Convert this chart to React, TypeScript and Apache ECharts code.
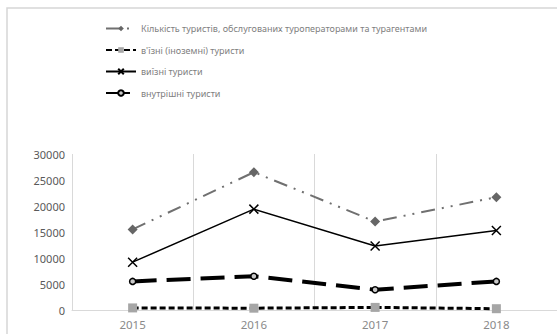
import React, { useEffect, useRef } from "react";
import * as echarts from "echarts";

const years = ["2015", "2016", "2017", "2018"];
const totalServed = [15500, 26500, 17000, 21700];
const inbound = [400, 350, 500, 250];
const outbound = [9200, 19400, 12300, 15300];
const domestic = [5500, 6500, 3900, 5500];

const seriesNames = [
  "Кількість туристів, обслугованих туроператорами та турагентами",
  "в'їзні (іноземні) туристи",
  "виїзні туристи",
  "внутрішні туристи",
];

const FONT = "'Noto Sans', 'Open Sans', sans-serif";
const CROSS = "path://M0,0L10,10M10,0L0,10";

export default function App() {
  const ref = useRef<HTMLDivElement>(null);

  useEffect(() => {
    if (!ref.current) return;
    const chart = echarts.init(ref.current, null, { renderer: "svg" });
    chart.setOption({
      animation: false,
      backgroundColor: "#ffffff",
      textStyle: { fontFamily: FONT },
      graphic: [
        {
          type: "rect",
          shape: { x: 7, y: 8, width: 600, height: 400 },
          style: { fill: "none", stroke: "#d6d6d6", lineWidth: 1.5 },
          silent: true,
        },
      ],
      legend: {
        orient: "vertical",
        left: 100,
        top: 19,
        itemWidth: 30,
        itemHeight: 7,
        itemGap: 12.5,
        textStyle: { fontSize: 9, color: "#808080", fontFamily: FONT },
        data: seriesNames,
      },
      grid: { left: 72, right: -5, top: 154, bottom: 24 },
      xAxis: {
        type: "category",
        data: years,
        boundaryGap: true,
        axisLine: { lineStyle: { color: "#d9d9d9", width: 1 } },
        axisTick: { show: false },
        axisLabel: { color: "#8a8a8a", fontSize: 11.5, margin: 8 },
        splitLine: { show: true, lineStyle: { color: "#d9d9d9", width: 1 } },
      },
      yAxis: {
        type: "value",
        min: 0,
        max: 30000,
        interval: 5000,
        axisLine: { show: false },
        axisTick: { show: false },
        splitLine: { show: false },
        axisLabel: {
          color: "#595959",
          fontSize: 11,
          margin: 7,
          formatter: (v: number) => String(v),
        },
      },
      series: [
        {
          name: seriesNames[0],
          type: "line",
          data: totalServed,
          symbol: "diamond",
          symbolSize: 10,
          itemStyle: { color: "#666666" },
          lineStyle: { color: "#707070", width: 2, type: [14, 7, 2, 7, 2, 7] },
          z: 4,
        },
        {
          name: seriesNames[1],
          type: "line",
          data: inbound,
          symbol: "rect",
          symbolSize: 9,
          itemStyle: { color: "#a6a6a6" },
          lineStyle: { color: "#000000", width: 3, type: [6, 3] },
          z: 3,
        },
        {
          name: seriesNames[2],
          type: "line",
          data: outbound,
          symbol: CROSS,
          symbolSize: 9,
          itemStyle: { color: "#000000", borderColor: "#000000", borderWidth: 1.5 },
          lineStyle: { color: "#000000", width: 1.5 },
          z: 5,
        },
        {
          name: seriesNames[3],
          type: "line",
          data: domestic,
          symbol: "circle",
          symbolSize: 6,
          itemStyle: { color: "#c8c8c8", borderColor: "#000000", borderWidth: 1.5 },
          lineStyle: { color: "#000000", width: 4, type: [24, 10] },
          z: 3,
        },
      ],
    });
    return () => chart.dispose();
  }, []);

  return (
    <div
      ref={ref}
      style={{ position: "fixed", left: 0, top: 0, width: 557, height: 334 }}
    />
  );
}
